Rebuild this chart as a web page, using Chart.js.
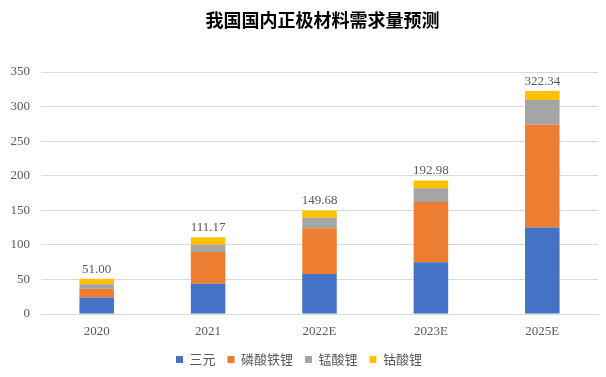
<!DOCTYPE html>
<html>
<head>
<meta charset="utf-8">
<script src="https://cdn.jsdelivr.net/npm/chart.js@4.4.0/dist/chart.umd.min.js"></script>
<style>
  html, body { margin: 0; padding: 0; background: #fff; }
  #wrap { width: 606px; height: 377px; }
</style>
</head>
<body>
<div id="wrap"><canvas id="demandChart" width="606" height="377"></canvas></div>
<script>
const title = "我国国内正极材料需求量预测";
const categories = ["2020", "2021", "2022E", "2023E", "2025E"];
const ternary = [24.0, 43.6, 57.7, 74.7, 125.0];
const lfp = [12.4, 46.0, 66.4, 87.2, 148.8];
const lmo = [6.5, 10.7, 15.0, 19.8, 35.8];
const lco = [8.1, 10.87, 10.58, 11.28, 12.74];
const totals = [51.0, 111.17, 149.68, 192.98, 322.34];
const yTicks = [0, 50, 100, 150, 200, 250, 300, 350];

const serif = "'Liberation Serif', 'Times New Roman', serif";
const cjk = "'Noto Sans CJK SC', sans-serif";

// totals above the stacked bars + title centred over the plot
const totalsPlugin = {
  id: "totals",
  afterDatasetsDraw(chart) {
    const ctx = chart.ctx;
    const meta = chart.getDatasetMeta(chart.data.datasets.length - 1);
    ctx.save();
    ctx.font = "13px " + serif;
    ctx.fillStyle = "#595959";
    ctx.textAlign = "center";
    ctx.textBaseline = "bottom";
    meta.data.forEach((bar, i) => {
      ctx.fillText(totals[i].toFixed(2), bar.x, bar.y - 3);
    });
    ctx.font = "bold 18px " + cjk;
    ctx.fillStyle = "#000";
    ctx.textBaseline = "middle";
    const cx = (chart.chartArea.left + chart.chartArea.right) / 2 + 3;
    ctx.fillText(title, cx, 20);
    ctx.restore();
  },
};

const ctx = document.getElementById("demandChart").getContext("2d");

new Chart(ctx, {
  type: "bar",
  data: {
    labels: categories,
    datasets: [
      { label: "三元", data: ternary, backgroundColor: "#4472C4" },
      { label: "磷酸铁锂", data: lfp, backgroundColor: "#ED7D31" },
      { label: "锰酸锂", data: lmo, backgroundColor: "#A5A5A5" },
      { label: "钴酸锂", data: lco, backgroundColor: "#FFC000" },
    ],
  },
  options: {
    responsive: false,
    animation: false,
    layout: { padding: { top: 72, right: 8, left: 0, bottom: 1 } },
    datasets: {
      bar: { categoryPercentage: 1, barPercentage: 0.31, borderWidth: 0 },
    },
    plugins: {
      tooltip: { enabled: false },
      legend: {
        position: "bottom",
        labels: {
          boxWidth: 7,
          boxHeight: 7,
          padding: 12,
          color: "#595959",
          font: { family: cjk, size: 13 },
        },
      },
    },
    scales: {
      x: {
        stacked: true,
        grid: { display: false },
        border: { color: "#D9D9D9" },
        ticks: { color: "#595959", font: { family: serif, size: 13 }, padding: 2 },
        afterFit(scale) { scale.height = 27; },
      },
      y: {
        stacked: true,
        min: 0,
        max: 350,
        afterBuildTicks(scale) { scale.ticks = yTicks.map((v) => ({ value: v })); },
        grid: { color: "#D9D9D9", drawTicks: false },
        border: { display: false },
        ticks: { color: "#595959", font: { family: serif, size: 13 }, padding: 11 },
        afterFit(scale) { scale.width = 41; },
      },
    },
  },
  plugins: [totalsPlugin],
});
</script>
</body>
</html>
